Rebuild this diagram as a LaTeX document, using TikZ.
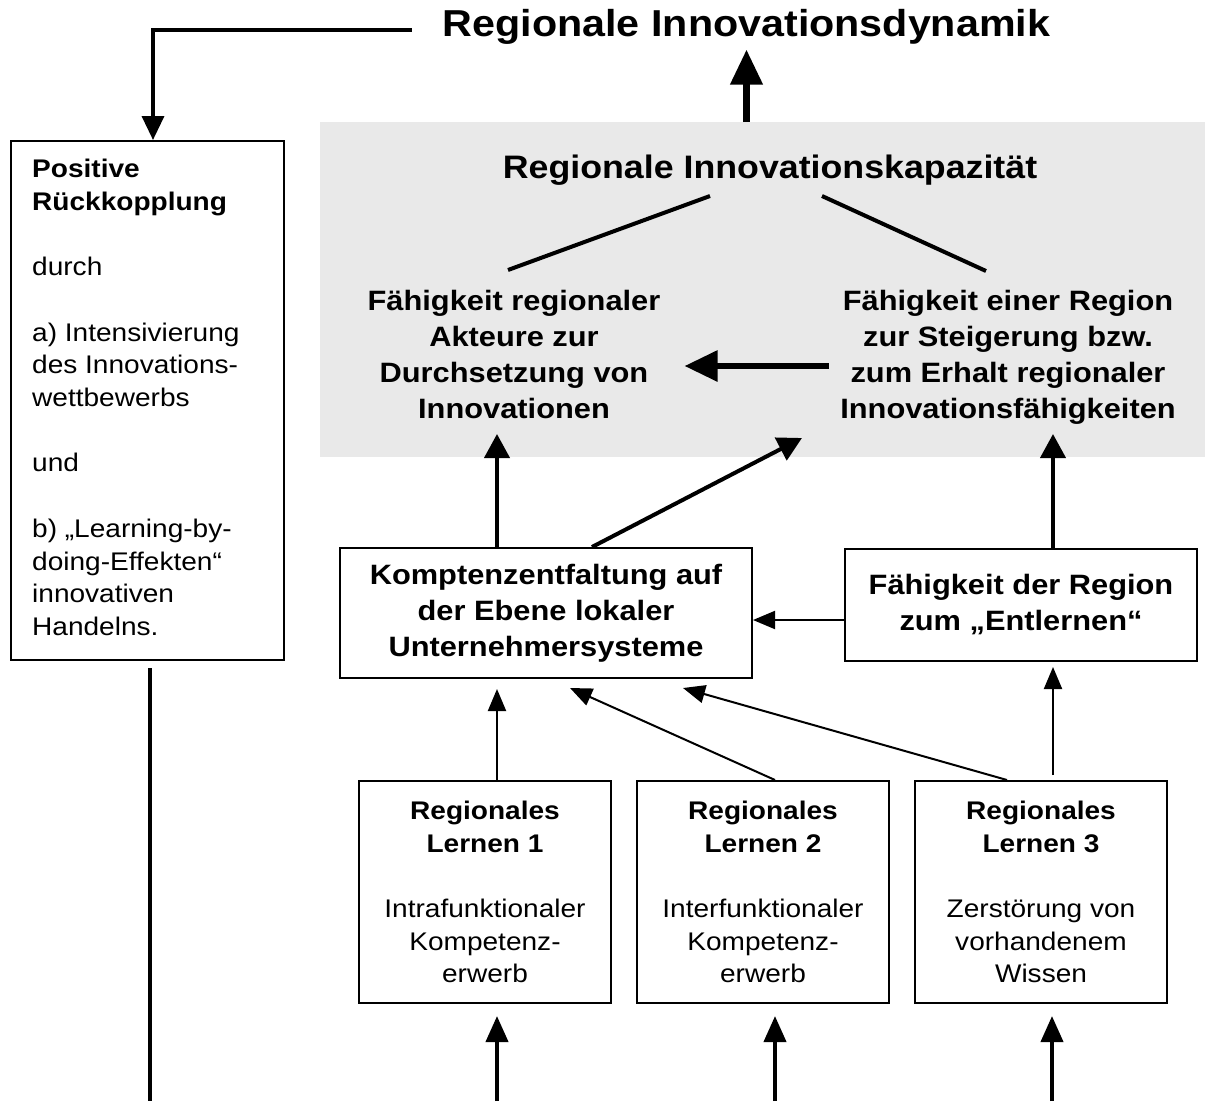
\documentclass[tikz,border=0pt]{standalone}
\usepackage{fontspec}
\setmainfont{Liberation Sans}[FakeStretch=1.1]
\usetikzlibrary{arrows.meta,calc}
\definecolor{greybg}{RGB}{233,233,233}
\newcommand\fntS{\fontsize{25.5}{32.7}\selectfont}
\newcommand\fntM{\fontsize{28}{36}\selectfont}
\newcommand\fntL{\fontsize{32.5}{39}\selectfont}
\newcommand\fntT{\fontsize{37.5}{45}\selectfont}
\tikzset{
  boxst/.style={draw, line width=2pt, fill=white, inner sep=0pt, align=center},
  txt/.style={inner sep=0pt, align=center},
  thinar/.style={line width=2pt, -{Triangle[length=22pt,width=18pt]}},
  midar/.style={line width=4pt, -{Triangle[length=24pt,width=25pt]}},
  botar/.style={line width=4pt, -{Triangle[length=26pt,width=22pt]}},
  bigar/.style={line width=7pt, -{Triangle[length=35pt,width=31pt]}},
  horar/.style={line width=6pt, -{Triangle[length=33pt,width=30pt]}},
  fbar/.style={line width=3.5pt, -{Triangle[length=24pt,width=22pt]}},
  plain/.style={line width=4pt},
}
\begin{document}
\begin{tikzpicture}[x=1pt,y=-1pt]
\useasboundingbox (0,0) rectangle (1205,1101);

% title and shaded capacity area
\node[txt, anchor=north, font=\fntT\bfseries] (title) at (746.5,9) {Regionale Innovationsdynamik};
\node[fill=greybg, inner sep=0pt, anchor=north west, minimum width=885pt, minimum height=335pt] (grey) at (320,122) {};
\node[txt, anchor=north, font=\fntL\bfseries] (cap) at (770,155) {Regionale Innovationskapazität};
\node[txt, anchor=north, font=\fntM\bfseries] (akt) at (514,290)
  {Fähigkeit regionaler\\Akteure zur\\Durchsetzung von\\Innovationen};
\node[txt, anchor=north, font=\fntM\bfseries] (erh) at (1008,290)
  {Fähigkeit einer Region\\zur Steigerung bzw.\\zum Erhalt regionaler\\Innovationsfähigkeiten};

% feedback box
\node[boxst, minimum width=273pt, minimum height=519pt] (lbox) at (147.5,400.5) {};
\node[txt, align=left, anchor=north west, font=\fntS] (ltxt) at (32,159)
  {\textbf{Positive}\\\textbf{Rückkopplung}\\[32.7pt]durch\\[32.7pt]a) Intensivierung\\des Innovations-\\wettbewerbs\\[32.7pt]und\\[32.7pt]b) „Learning-by-\\doing-Effekten“\\innovativen\\Handelns.};

% middle boxes
\node[boxst, minimum width=412pt, minimum height=130pt, font=\fntM\bfseries] (kbox) at (546,613)
  {Komptenzentfaltung auf\\der Ebene lokaler\\Unternehmersysteme};
\node[boxst, minimum width=352pt, minimum height=112pt, font=\fntM\bfseries] (ebox) at (1021,605)
  {Fähigkeit der Region\\zum „Entlernen“};

% learning boxes
\node[boxst, minimum width=252pt, minimum height=222pt, font=\fntS] (l1) at (485,892)
  {\textbf{Regionales}\\\textbf{Lernen 1}\\[32.7pt]Intrafunktionaler\\Kompetenz-\\erwerb};
\node[boxst, minimum width=252pt, minimum height=222pt, font=\fntS] (l2) at (763,892)
  {\textbf{Regionales}\\\textbf{Lernen 2}\\[32.7pt]Interfunktionaler\\Kompetenz-\\erwerb};
\node[boxst, minimum width=252pt, minimum height=222pt, font=\fntS] (l3) at (1041,892)
  {\textbf{Regionales}\\\textbf{Lernen 3}\\[32.7pt]Zerstörung von\\vorhandenem\\Wissen};

% connector end points
\coordinate (fb) at (153,30);
\coordinate (lb) at (150,1101);
\coordinate (capL) at (710,196);
\coordinate (capR) at (822,196);
\coordinate (aktT) at (508,270);
\coordinate (erhT) at (986,271);
\coordinate (hy) at (760,366);
\coordinate (tA) at (497,434);
\coordinate (tB) at (802,438);
\coordinate (tC) at (1053,434);
\coordinate (my) at (800,620);
\coordinate (k2) at (570,688);
\coordinate (k3) at (683,688);
\coordinate (b1) at (497,1101);
\coordinate (b2) at (775,1101);
\coordinate (b3) at (1052,1101);

% feedback loop
\draw[fbar] ($(title.west |- fb)+(-31,0)$) -- (fb) -- (lbox.north -| fb);
\draw[plain] ($(lbox.south -| lb)+(0,7)$) -- (lb);

% capacity structure
\draw[bigar] (grey.north -| title) -- ($(title.south)+(0,5)$);
\draw[plain] (capL) -- (aktT);
\draw[plain] (capR) -- (erhT);
\draw[horar] ($(erh.west |- hy)+(-11,0)$) -- ($(akt.east |- hy)+(24,0)$);

% middle level into capacity
\draw[midar] (kbox.north -| tA) -- (tA);
\draw[midar] ($(kbox.north)+(46,0)$) -- (tB);
\draw[midar] (ebox.north -| tC) -- (tC);
\draw[thinar] (ebox.west |- my) -- (kbox.east |- my);

% learning into middle level
\draw[thinar] (l1.north -| tA) -- ($(kbox.south -| tA)+(0,10)$);
\draw[thinar] ($(l2.north)+(12,0)$) -- (k2);
\draw[thinar] ($(l3.north)+(-34,0)$) -- (k3);
\draw[thinar] ($(l3.north -| tC)+(0,-5)$) -- ($(ebox.south -| tC)+(0,5)$);

% inputs from below
\draw[botar] (b1) -- ($(l1.south -| b1)+(0,12)$);
\draw[botar] (b2) -- ($(l2.south -| b2)+(0,12)$);
\draw[botar] (b3) -- ($(l3.south -| b3)+(0,12)$);
\end{tikzpicture}
\end{document}
